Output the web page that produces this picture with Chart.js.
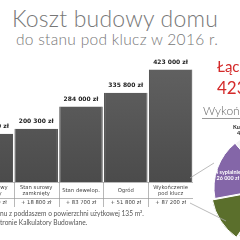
<!DOCTYPE html>
<html>
<head>
<meta charset="utf-8">
<script src="https://cdn.jsdelivr.net/npm/chart.js@4.4.1/dist/chart.umd.min.js"></script>
<style>
  html, body { margin:0; padding:0; width:240px; height:240px; overflow:hidden; background:#fff; position:relative; font-family: Lato, "DejaVu Sans", sans-serif; }
  .abs { position:absolute; white-space:nowrap; }
  #title { left:0; top:4px; width:230px; text-align:center; font-size:23px; color:#777; font-weight:300; letter-spacing:0.2px; }
  #subtitle { left:0; top:30px; width:234px; text-align:center; font-size:15.5px; color:#777; font-weight:300; letter-spacing:0.3px; }
  #total1 { left:217px; top:57px; font-size:15px; color:#d42a2a; }
  #total2 { left:217px; top:77px; font-size:17px; color:#d42a2a; }
  #pieTitle { left:203px; top:103px; font-size:12px; color:#666; font-weight:300; }
  #pieLine { left:202px; top:118px; width:40px; height:1px; background:#999; }
  .pieLbl { font-size:5.5px; font-weight:700; line-height:6px; }
  #sypialnie { left:215px; top:169px; color:#fff; text-align:center; }
  .note { left:0; font-size:6.6px; color:#555; }
</style>
</head>
<body>
<div class="abs" id="title">Koszt budowy domu</div>
<div class="abs" id="subtitle">do stanu pod klucz w 2016 r.</div>

<canvas id="barChart" class="abs" width="224" height="158" style="left:-31px; top:49px;"></canvas>
<canvas id="pieChart" class="abs" width="140" height="140" style="left:202px; top:118px;"></canvas>

<svg class="abs" width="240" height="240" style="left:0; top:0;">
  <line x1="190" y1="178" x2="214" y2="163" stroke="#aaa" stroke-width="0.8"/>
  <line x1="190" y1="203" x2="226" y2="221" stroke="#aaa" stroke-width="0.8"/>
</svg>

<div class="abs" id="total1">Łącznie:</div>
<div class="abs" id="total2">423 000 zł</div>
<div class="abs" id="pieTitle">Wykończenie</div>
<div class="abs" id="pieLine"></div>
<div class="abs pieLbl" style="left:233px; top:124px; color:#222;">Kuchnia</div>
<div class="abs pieLbl" style="left:237px; top:130px; color:#222;">45 000 zł</div>
<div class="abs pieLbl" id="sypialnie">4 sypialnie<br>26 000 zł</div>

<div class="abs note" style="top:209px;">nu z poddaszem o powierzchni użytkowej 135 m².</div>
<div class="abs note" style="top:218px;">tronie Kalkulatory Budowlane.</div>

<script>
// stages of the build
let stageNames = [
    ['Stan surowy', 'otwarty'],
    ['Stan surowy', 'zamknięty'],
    ['Stan dewelop.'],
    ['Ogród'],
    ['Wykończenie', 'pod klucz']
];
let stageTotals = [181500, 200300, 284000, 335800, 423000];
let stageIncrements = ['+ 97 500 zł', '+ 18 800 zł', '+ 83 700 zł', '+ 51 800 zł', '+ 87 200 zł'];
let yMin = 0;
let yMax = 500000;

// finishing breakdown (pie)
let pieLabels = ['Łazienki', '4 sypialnie', 'Kuchnia', 'Podłogi', 'Pozostałe'];
let pieValues = [19000, 26000, 45000, 34000, 29400];
let pieColors = ['#5b6f2c', '#8466a8', '#f2f2f2', '#c9c9c9', '#a9a9a9'];

function formatZl(v){
    return v.toString().replace(/\B(?=(\d{3})+(?!\d))/g, ' ') + ' zł';
}

let valueLabels = {
    id: 'valueLabels',
    afterDatasetsDraw(chart){
        let ctx = chart.ctx;
        let meta = chart.getDatasetMeta(0);
        ctx.save();
        ctx.font = 'bold 6px "DejaVu Sans", sans-serif';
        ctx.fillStyle = '#222';
        ctx.textAlign = 'center';
        ctx.textBaseline = 'bottom';
        meta.data.forEach((bar, i) => {
            ctx.fillText(formatZl(stageTotals[i]), bar.x, bar.y - 4);
        });
        ctx.restore();
    }
};

let tablePlugin = {
    id: 'tablePlugin',
    afterDraw(chart){
        let ctx = chart.ctx;
        let area = chart.chartArea;
        let xs = chart.scales.x;
        let top = area.bottom;
        let mid = top + 16;
        let bottom = top + 25;
        let half = (xs.getPixelForValue(1) - xs.getPixelForValue(0)) / 2;
        ctx.save();
        ctx.strokeStyle = '#9a9a9a';
        ctx.lineWidth = 0.7;
        ctx.beginPath();
        [top, mid, bottom].forEach(y => {
            ctx.moveTo(area.left, y + 0.5);
            ctx.lineTo(area.right, y + 0.5);
        });
        for(let i = 0; i <= stageNames.length; i++){
            let x = Math.round(xs.getPixelForValue(i) - half) + 0.5;
            ctx.moveTo(x, top);
            ctx.lineTo(x, bottom);
        }
        ctx.stroke();
        ctx.font = '5.3px "DejaVu Sans", sans-serif';
        ctx.fillStyle = '#444';
        ctx.textAlign = 'center';
        ctx.textBaseline = 'middle';
        stageNames.forEach((lines, i) => {
            let x = xs.getPixelForValue(i);
            let cy = top + 8.5;
            lines.forEach((ln, j) => {
                ctx.fillText(ln, x, cy + (j - (lines.length - 1) / 2) * 6.2);
            });
            ctx.fillText(stageIncrements[i], x, mid + 5);
        });
        ctx.restore();
    }
};

function barGradient(context){
    let chart = context.chart;
    let area = chart.chartArea;
    if(!area) return '#555';
    let g = chart.ctx.createLinearGradient(0, area.top, 0, area.bottom);
    g.addColorStop(0, '#646464');
    g.addColorStop(1, '#4b4b4b');
    return g;
}

new Chart(document.getElementById('barChart'), {
    type: 'bar',
    data: {
        labels: stageNames,
        datasets: [{
            data: stageTotals,
            backgroundColor: barGradient,
            borderColor: '#3e3e3e',
            borderWidth: {left: 1, right: 1, top: 0, bottom: 0},
            borderSkipped: false,
            barPercentage: 0.97,
            categoryPercentage: 1
        }]
    },
    options: {
        responsive: false,
        animation: false,
        layout: { padding: { top: 0, bottom: 25, left: 0, right: 0 } },
        plugins: { legend: { display: false }, tooltip: { enabled: false }, title: { display: false } },
        scales: {
            x: { display: false },
            y: { display: false, min: yMin, max: yMax }
        }
    },
    plugins: [valueLabels, tablePlugin]
});

new Chart(document.getElementById('pieChart'), {
    type: 'pie',
    data: {
        labels: pieLabels,
        datasets: [{
            data: pieValues,
            backgroundColor: pieColors,
            borderColor: '#fff',
            borderWidth: 1,
            offset: [9, 0, 0, 0, 0]
        }]
    },
    options: {
        responsive: false,
        animation: false,
        radius: 58,
        rotation: 215,
        plugins: { legend: { display: false }, tooltip: { enabled: false } }
    }
});
</script>
</body>
</html>
